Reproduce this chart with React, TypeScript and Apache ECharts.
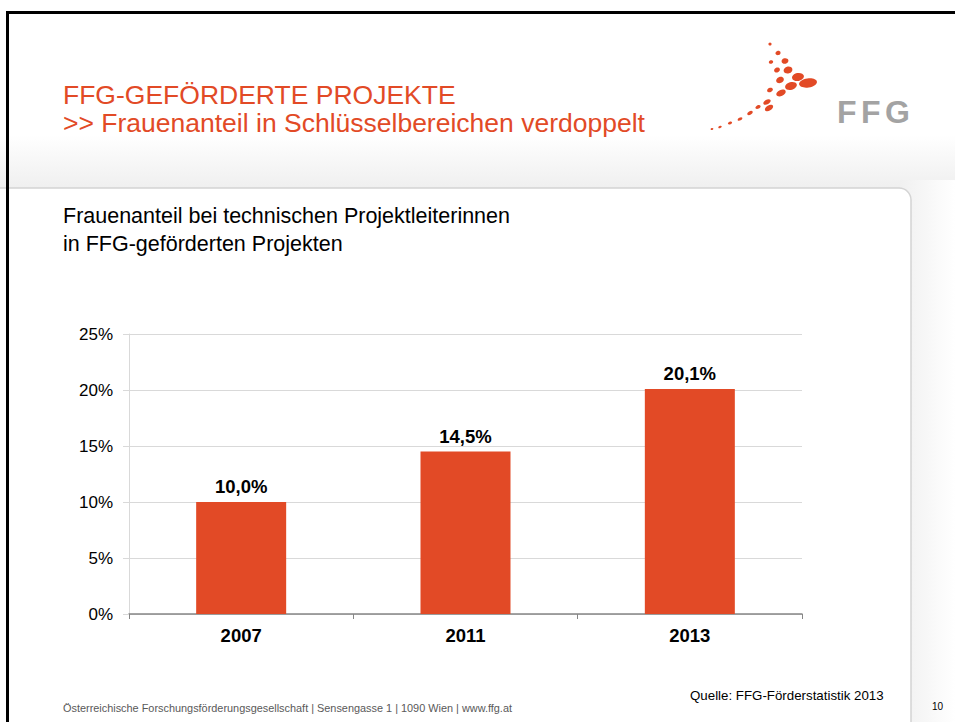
import React, { useEffect, useRef } from "react";
import * as echarts from "echarts";

const categories = ["2007", "2011", "2013"];
const values = [10.0, 14.5, 20.1];
const yTicks = { min: 0, max: 25, interval: 5 };

const titleLine1 = "FFG-GEFÖRDERTE PROJEKTE";
const titleLine2 = ">> Frauenanteil in Schlüsselbereichen verdoppelt";
const subtitle1 = "Frauenanteil bei technischen Projektleiterinnen";
const subtitle2 = "in FFG-geförderten Projekten";
const footerLeft = "Österreichische Forschungsförderungsgesellschaft | Sensengasse 1 | 1090 Wien | www.ffg.at";
const source = "Quelle: FFG-Förderstatistik 2013";
const pageNo = "10";
const logoLetters = ["F", "F", "G"];

const ORANGE = "#E24A26";
const FONT = "'Liberation Sans', Arial, sans-serif";

// logo dots [cx, cy, rx, ry, rotation]
const logoDots: number[][] = [
  [770, 44, 1.6, 1.6, 0],
  [778, 53, 2.6, 2.2, 0.3],
  [771, 62, 2.2, 1.8, 0.3],
  [785, 61, 3.5, 2.8, 0.3],
  [777, 70, 3, 2.4, 0.4],
  [788, 70, 4.5, 3.5, 0.3],
  [798, 77, 6, 4, 0.2],
  [808, 83, 9, 4.5, 0.15],
  [780, 80, 4, 3, 0.4],
  [791, 86, 6, 3.8, 0.3],
  [770, 90, 3, 2.2, 0.4],
  [781, 93, 5, 3, 0.4],
  [767, 102, 4, 2.4, 0.5],
  [758, 107, 2.8, 1.8, 0.5],
  [769, 108, 4.5, 2.6, 0.5],
  [750, 113, 3, 1.8, 0.5],
  [740, 119, 2.6, 1.5, 0.5],
  [730, 123, 2.2, 1.3, 0.4],
  [720, 127, 1.8, 1.1, 0.4],
  [712, 129, 1.4, 1, 0.3],
];

export default function App() {
  const ref = useRef<HTMLDivElement>(null);
  useEffect(() => {
    if (!ref.current) return;
    const chart = echarts.init(ref.current, undefined, { renderer: "svg" });
    const letterX = [837, 861, 885];
    const graphic: any[] = [
      {
        type: "rect",
        z: -20,
        shape: { x: 0, y: 135, width: 955, height: 60 },
        style: {
          fill: new echarts.graphic.LinearGradient(0, 0, 0, 1, [
            { offset: 0, color: "#FFFFFF" },
            { offset: 1, color: "#EDEDED" },
          ]),
        },
      },
      {
        type: "rect",
        z: -20,
        shape: { x: 900, y: 180, width: 55, height: 542 },
        style: {
          fill: new echarts.graphic.LinearGradient(0, 0, 1, 0, [
            { offset: 0, color: "#F0F0F0" },
            { offset: 1, color: "#FFFFFF" },
          ]),
        },
      },
      {
        type: "rect",
        z: -10,
        shape: { x: -5, y: 188, width: 916, height: 560, r: [0, 12, 0, 0] },
        style: { fill: "#FFFFFF", stroke: "#D4D4D4", lineWidth: 1.5 },
      },
      { type: "rect", z: 50, shape: { x: 6, y: 11, width: 949, height: 3 }, style: { fill: "#000" } },
      { type: "rect", z: 50, shape: { x: 6, y: 11, width: 3, height: 711 }, style: { fill: "#000" } },
      {
        type: "text",
        left: 63,
        top: 81,
        style: { text: titleLine1, fill: ORANGE, font: `26.5px ${FONT}` },
      },
      {
        type: "text",
        left: 63,
        top: 109,
        style: { text: titleLine2, fill: ORANGE, font: `26.5px ${FONT}` },
      },
      {
        type: "text",
        left: 63,
        top: 205,
        style: { text: subtitle1, fill: "#000", font: `21.5px ${FONT}` },
      },
      {
        type: "text",
        left: 63,
        top: 233,
        style: { text: subtitle2, fill: "#000", font: `21.5px ${FONT}` },
      },
      {
        type: "text",
        left: 63,
        top: 702,
        style: { text: footerLeft, fill: "#595959", font: `10.9px ${FONT}` },
      },
      {
        type: "text",
        left: 690,
        top: 689,
        style: { text: source, fill: "#000", font: `13.3px ${FONT}` },
      },
      {
        type: "text",
        left: 932,
        top: 701,
        style: { text: pageNo, fill: "#000", font: `10px ${FONT}` },
      },
      ...logoLetters.map((ch, i) => ({
        type: "text",
        left: letterX[i],
        top: 96,
        style: { text: ch, fill: "#A3A3A3", font: `bold 32px ${FONT}` },
      })),
      ...logoDots.map((d) => ({
        type: "ellipse",
        shape: { cx: 0, cy: 0, rx: d[2], ry: d[3] },
        x: d[0],
        y: d[1],
        rotation: d[4],
        style: { fill: ORANGE },
      })),
    ];
    chart.setOption({
      animation: false,
      textStyle: { fontFamily: FONT },
      graphic,
      grid: { left: 129, right: 153, top: 334, bottom: 108, containLabel: false },
      xAxis: {
        type: "category",
        data: categories,
        axisLine: { show: true, lineStyle: { color: "#868686", width: 1.5 } },
        axisTick: { show: true, length: 5, lineStyle: { color: "#868686" } },
        axisLabel: { color: "#000", fontWeight: "bold", fontSize: 18.5, margin: 12, fontFamily: FONT },
      },
      yAxis: {
        type: "value",
        min: yTicks.min,
        max: yTicks.max,
        interval: yTicks.interval,
        axisLine: { show: true, lineStyle: { color: "#D9D9D9" } },
        axisTick: { show: true, length: 6, lineStyle: { color: "#D9D9D9" } },
        splitLine: { lineStyle: { color: "#D9D9D9", width: 1.2 } },
        axisLabel: { color: "#000", fontSize: 17, margin: 16, fontFamily: FONT, formatter: "{value}%" },
      },
      series: [
        {
          type: "bar",
          data: values,
          barWidth: 90,
          itemStyle: { color: ORANGE },
          label: {
            show: true,
            position: "top",
            distance: 6,
            color: "#000",
            fontWeight: "bold",
            fontSize: 18.5,
            fontFamily: FONT,
            formatter: (p: any) => p.value.toFixed(1).replace(".", ",") + "%",
          },
        },
      ],
    });
    return () => chart.dispose();
  }, []);
  return (
    <div
      ref={ref}
      style={{ position: "fixed", left: 0, top: 0, width: 955, height: 722, background: "#fff" }}
    />
  );
}
